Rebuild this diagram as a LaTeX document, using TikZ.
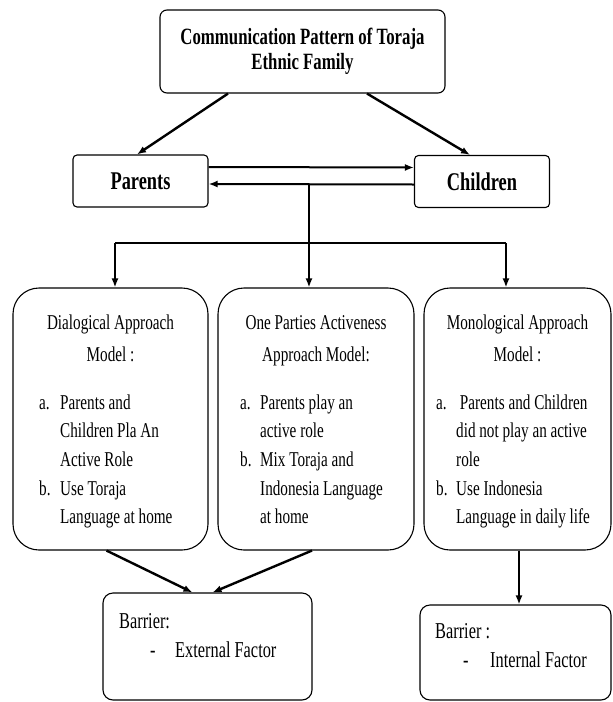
\documentclass[tikz,border=0pt]{standalone}
\usepackage{fontspec}
\setmainfont{Liberation Serif}[FakeStretch=0.72]
\usetikzlibrary{arrows.meta,calc}

\begin{document}
\begin{tikzpicture}[
    x=1pt, y=-1pt,
    >={Latex[length=9pt,width=7pt]},
    headbox/.style={rectangle, draw=black, line width=1.1pt, rounded corners=7pt, minimum width=285pt, minimum height=83pt, align=center, font=\fontsize{23.3}{25}\selectfont\bfseries},
    rolebox/.style={rectangle, draw=black, line width=1.1pt, rounded corners=4pt, minimum width=135pt, minimum height=52pt, font=\fontsize{25.5}{28}\selectfont\bfseries},
    modelbox/.style={rectangle, draw=black, line width=1.1pt, rounded corners=26pt, minimum height=262pt},
    barrierbox/.style={rectangle, draw=black, line width=1.1pt, rounded corners=10pt},
    modeltitle/.style={inner sep=0pt, anchor=base, font=\fontsize{21.1}{32}\selectfont},
    modellist/.style={inner sep=0pt, anchor=base west, font=\fontsize{21.1}{28.7}\selectfont},
    barriertext/.style={inner sep=0pt, anchor=base west, font=\fontsize{22.7}{29}\selectfont},
    link/.style={->, line width=2.4pt},
    bus/.style={line width=1.7pt}
]
\useasboundingbox (0,0) rectangle (613,702);

% Top level
\node[headbox] (title) at (302.5,51.5) {Communication Pattern of Toraja\\Ethnic Family};
\node[rolebox] (parents) at (140.5,181) {Parents};
\node[rolebox] (children) at (482,181.5) {Children};

% Approach models
\node[modelbox, minimum width=195pt] (dial) at (110.5,419) {};
\node[modelbox, minimum width=196pt] (onep) at (316,419) {};
\node[modelbox, minimum width=187pt] (mono) at (517.5,419) {};

\node[modeltitle] (dialhead) at (110.5,329) {\begin{tabular}[t]{@{}c@{}}Dialogical Approach\\Model :\end{tabular}};
\node[modeltitle] (onephead) at (316,329) {\begin{tabular}[t]{@{}c@{}}One Parties Activeness\\Approach Model:\end{tabular}};
\node[modeltitle] (monohead) at (517.5,329) {\begin{tabular}[t]{@{}c@{}}Monological Approach\\Model :\end{tabular}};

\node[modellist] (diallist) at (39,409) {\begin{tabular}[t]{@{}p{21pt}@{}l@{}}
a. & Parents and\\ & Children Pla An\\ & Active Role\\ b. & Use Toraja\\ & Language at home\end{tabular}};
\node[modellist] (oneplist) at (240,409) {\begin{tabular}[t]{@{}p{20pt}@{}l@{}}
a. & Parents play an\\ & active role\\ b. & Mix Toraja and\\ & Indonesia Language\\ & at home\end{tabular}};
\node[modellist] (monolist) at (436,409) {\begin{tabular}[t]{@{}p{20pt}@{}l@{}}
a. & \ Parents and Children\\ & did not play an active\\ & role\\ b. & Use Indonesia\\ & Language in daily life\end{tabular}};

% Barriers
\node[barrierbox, minimum width=209pt, minimum height=107pt] (ext) at (207.5,646.5) {};
\node[barrierbox, minimum width=191pt, minimum height=95pt] (int) at (515.5,652.5) {};
\node[barriertext] (exttext) at (119,628) {\begin{tabular}[t]{@{}l@{}}Barrier:\\\hspace*{31pt}\makebox[25pt][l]{-}External Factor\end{tabular}};
\node[barriertext] (inttext) at (435,638) {\begin{tabular}[t]{@{}l@{}}Barrier :\\\hspace*{28pt}\makebox[27pt][l]{-}Internal Factor\end{tabular}};

% Connections
\draw[link] ($(title.south)+(-74.5,0)$) -- ($(parents.north)+(-3.5,0)$);
\draw[link] ($(title.south)+(64.5,0)$) -- ($(children.north)+(-12,0)$);
\draw[->, line width=2pt] ([yshift=14pt]parents.east) -- ([yshift=14pt]children.west);
\draw[->, line width=2pt] ([yshift=-3pt]children.west) -- node[coordinate, pos=0.511] (split) {} ([yshift=-3pt]parents.east);

\draw[bus] (split) -- ++(0,59) coordinate (busmid);
\draw[bus] (busmid) -- ++(-194,0) coordinate (busleft);
\draw[bus] (busmid) -- ++(197,0) coordinate (busright);
\draw[->, bus] (busleft) -- (busleft |- dial.north);
\draw[->, bus] (busmid) -- (busmid |- onep.north);
\draw[->, bus] (busright) -- (busright |- mono.north);

\draw[link] ($(dial.south)+(-4,0)$) -- ($(ext.north)+(-15,0)$);
\draw[link] ($(onep.south)+(-4,0)$) -- ($(ext.north)+(5,0)$);
\draw[->, bus] ($(mono.south)+(1.5,0)$) coordinate (monofoot) -- (monofoot |- int.north);

\end{tikzpicture}
\end{document}
